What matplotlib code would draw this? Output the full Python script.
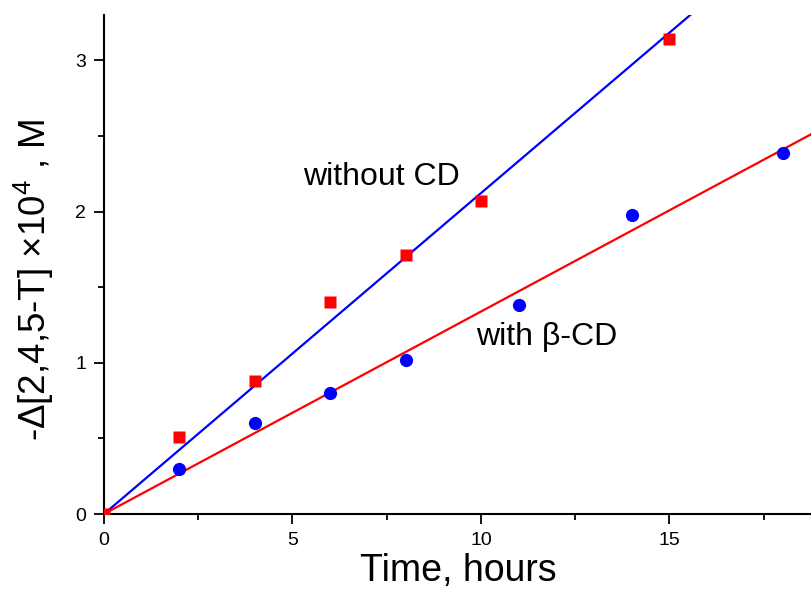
import numpy as np
import matplotlib
matplotlib.use("Agg")
import matplotlib.pyplot as plt
from matplotlib.ticker import MultipleLocator

plt.rcParams['font.family'] = ['Liberation Sans', 'DejaVu Sans']
plt.rcParams['mathtext.fontset'] = 'custom'
plt.rcParams['mathtext.rm'] = 'Liberation Sans'

# data
t_without = [0, 2, 4, 6, 8, 10, 15]
c_without = [0.0, 0.51, 0.88, 1.40, 1.71, 2.07, 3.14]
t_with = [2, 4, 6, 8, 11, 14, 18]
c_with = [0.30, 0.60, 0.80, 1.02, 1.38, 1.98, 2.39]

x_max = 18.78
y_max = 3.30

# fits through the origin
k_without = np.dot(t_without, c_without) / np.dot(t_without, t_without)
k_with = np.dot(t_with, c_with) / np.dot(t_with, t_with)

fig = plt.figure(figsize=(8.12, 5.97), dpi=100)
ax = fig.add_axes([0.128, 0.139, 0.872, 0.836])

xx = np.array([0, x_max])
ax.plot(xx, k_without * xx, color='#0000ff', lw=1.6, zorder=2)
ax.plot(xx, k_with * xx, color='#ff0000', lw=1.6, zorder=2)
ax.plot(t_without, c_without, 's', color='#ff0000', ms=8.5, mec='none', zorder=3)
ax.plot(t_with, c_with, 'o', color='#0000ff', ms=9.5, mec='none', zorder=3)

ax.text(7.37, 2.23, 'without CD', fontsize=23, ha='center', va='center')
ax.text(11.75, 1.17, 'with \u03b2-CD', fontsize=23, ha='center', va='center')

ax.set_xlim(0, x_max)
ax.set_ylim(0, y_max)
ax.xaxis.set_major_locator(MultipleLocator(5))
ax.xaxis.set_minor_locator(MultipleLocator(2.5))
ax.yaxis.set_major_locator(MultipleLocator(1))
ax.yaxis.set_minor_locator(MultipleLocator(0.5))
ax.tick_params(which='major', direction='out', length=7, width=1.3,
               labelsize=14, pad=6)
ax.tick_params(which='minor', direction='out', length=4, width=1.3)
for s in ['top', 'right']:
    ax.spines[s].set_visible(False)
for s in ['left', 'bottom']:
    ax.spines[s].set_linewidth(1.5)

ax.set_xlabel('Time, hours', fontsize=27, labelpad=3)
ax.set_ylabel('-\u0394[2,4,5-T] \u00d710$^{4}$ , M', fontsize=26.5)
ax.yaxis.set_label_coords(-0.068, 0.469)

fig.savefig('out.png', dpi=100)
